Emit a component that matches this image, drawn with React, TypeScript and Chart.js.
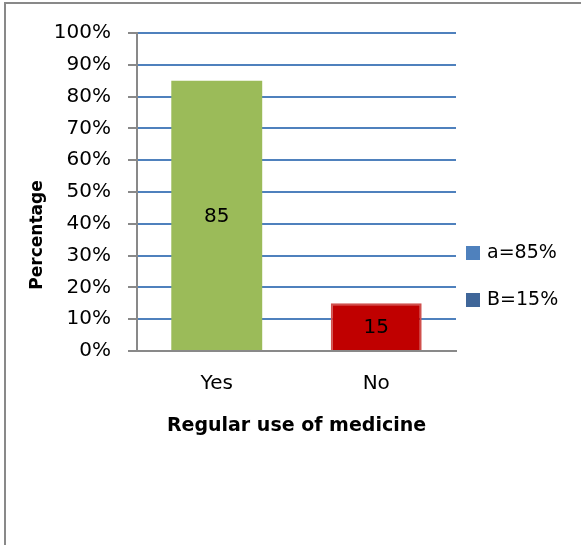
import React, { useEffect, useRef } from "react";
import { Chart, registerables } from "chart.js";

Chart.register(...registerables);

// Survey answers: regular use of medicine (percent of respondents)
const categories = ["Yes", "No"];
const percentages = [85, 15];
const barColors = ["#9BBB59", "#C00000"];
const barBorders = ["#9BBB59", "#D0504D"];
const legendLabels = ["a=85%", "B=15%"];
const legendColors = ["#4F81BD", "#3F6699"];
const yTickValues = [0, 10, 20, 30, 40, 50, 60, 70, 80, 90, 100];

const FONT = "'DejaVu Sans', sans-serif";
const AXIS_GRAY = "#898989";
const GRID_BLUE = "#4F81BD";

// Value labels inside bars, the side legend and both axis titles
const overlayPlugin = {
  id: "overlay",
  afterDraw(chart: Chart) {
    const { ctx, chartArea } = chart;
    const meta = chart.getDatasetMeta(0);
    ctx.save();

    // values centred in each bar
    ctx.fillStyle = "#000";
    ctx.font = `20px ${FONT}`;
    ctx.textAlign = "center";
    ctx.textBaseline = "middle";
    meta.data.forEach((el: any, i: number) => {
      const mid = (el.y + el.base) / 2;
      ctx.fillText(String(percentages[i]), el.x, mid + 1);
    });

    // legend on the right
    ctx.font = `19px ${FONT}`;
    ctx.textAlign = "left";
    legendLabels.forEach((label, i) => {
      const cy = 253 + i * 47;
      ctx.fillStyle = legendColors[i];
      ctx.fillRect(466, cy - 7, 14, 14);
      ctx.fillStyle = "#000";
      ctx.fillText(label, 487, cy);
    });

    // y axis title
    ctx.font = `bold 17px ${FONT}`;
    ctx.textAlign = "center";
    ctx.save();
    ctx.translate(38, 235);
    ctx.rotate(-Math.PI / 2);
    ctx.fillText("Percentage", 0, 0);
    ctx.restore();

    // x axis title
    ctx.font = `bold 19px ${FONT}`;
    ctx.fillText(
      "Regular use of medicine",
      (chartArea.left + chartArea.right) / 2,
      426
    );
    ctx.restore();
  },
};

export default function App() {
  const canvasRef = useRef<HTMLCanvasElement | null>(null);

  useEffect(() => {
    const canvas = canvasRef.current;
    if (!canvas) return;
    const chart = new Chart(canvas, {
      type: "bar",
      data: {
        labels: categories,
        datasets: [
          {
            data: percentages,
            backgroundColor: barColors,
            borderColor: barBorders,
            borderWidth: [0, 2],
            barPercentage: 0.57,
            categoryPercentage: 1,
          },
        ],
      },
      options: {
        responsive: false,
        animation: false,
        events: [],
        layout: { padding: { left: 0, right: 125, top: 33, bottom: 0 } },
        plugins: {
          legend: { display: false },
          tooltip: { enabled: false },
        },
        scales: {
          x: {
            grid: { display: false, drawTicks: false },
            border: { display: true, color: AXIS_GRAY, width: 2 },
            ticks: {
              color: "#000",
              font: { family: FONT, size: 20 },
              padding: 21,
            },
            afterFit(scale: any) {
              scale.height = 194;
            },
          },
          y: {
            min: 0,
            max: 100,
            afterBuildTicks(scale: any) {
              scale.ticks = yTickValues.map((v) => ({ value: v }));
            },
            grid: {
              color: (c: any) => (c.tick && c.tick.value === 0 ? AXIS_GRAY : GRID_BLUE),
              tickColor: AXIS_GRAY,
              lineWidth: 2,
              tickLength: 9,
            },
            border: { display: true, color: AXIS_GRAY, width: 2 },
            ticks: {
              color: "#000",
              font: { family: FONT, size: 20 },
              padding: 17,
              callback: (v: any) => `${v}%`,
            },
            afterFit(scale: any) {
              scale.width = 137;
            },
          },
        },
      },
      plugins: [overlayPlugin],
    });
    return () => chart.destroy();
  }, []);

  return (
    <div
      style={{
        position: "absolute",
        left: 0,
        top: 0,
        width: 581,
        height: 545,
        overflow: "hidden",
        background: "#fff",
      }}
    >
      <div
        style={{
          position: "absolute",
          left: 4,
          top: 2,
          width: 620,
          height: 620,
          border: `2px solid ${AXIS_GRAY}`,
          boxSizing: "border-box",
        }}
      />
      <canvas
        ref={canvasRef}
        width={581}
        height={545}
        style={{ position: "absolute", left: 0, top: 0 }}
      />
    </div>
  );
}
